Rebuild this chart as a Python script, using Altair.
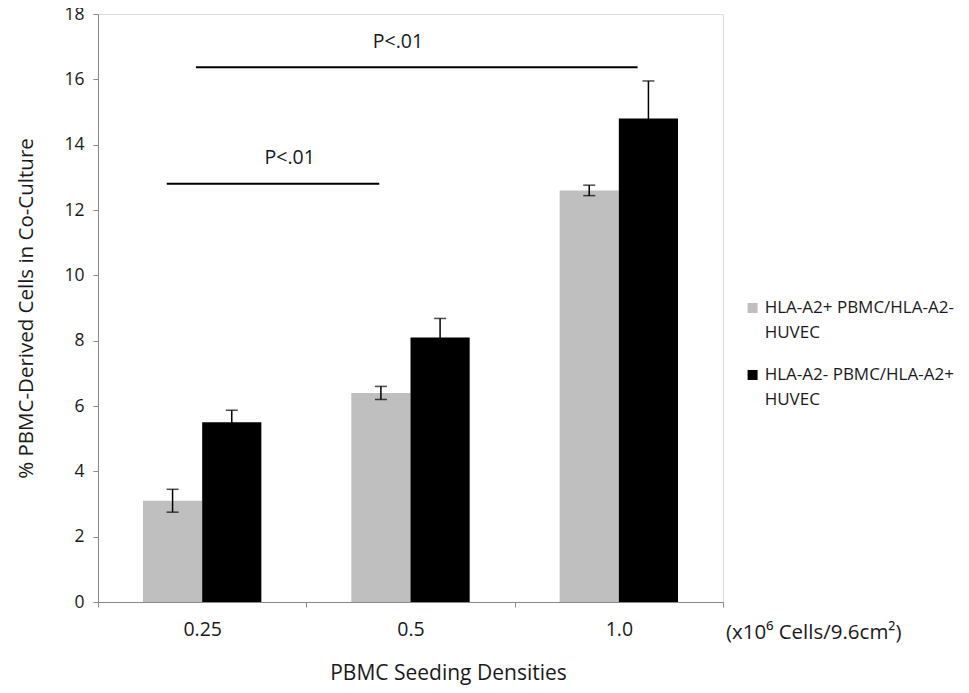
import altair as alt
import pandas as pd

categories = ["0.25", "0.5", "1.0"]
series = ["HLA-A2+ PBMC/HLA-A2- HUVEC", "HLA-A2- PBMC/HLA-A2+ HUVEC"]
gray_vals = [3.1, 6.4, 12.6]
gray_err = [0.35, 0.2, 0.16]
black_vals = [5.5, 8.1, 14.8]
black_err = [0.37, 0.58, 1.15]
colors = ["#bfbfbf", "#000000"]

# significance annotations (x on a 0..3 continuous position across the 3 bands)
sig_x = [0.33, 0.47]
sig_x2 = [1.35, 2.59]
sig_y = [12.8, 16.37]
sig_text = ["P<.01", "P<.01"]
sig_text_x = [0.92, 1.44]
sig_text_y = [13.6, 17.15]
unit_text = "(x10\u2076 Cells/9.6cm\u00b2)"

# manual legend placement (in the same 0..3 / y-value space)
legend_sym_x = 3.142
legend_txt_x = 3.2
legend_y = [9.0, 6.95]

rows = []
for i, c in enumerate(categories):
    rows.append({"cat": c, "series": series[0], "val": gray_vals[i],
                 "lo": gray_vals[i] - gray_err[i], "hi": gray_vals[i] + gray_err[i]})
    rows.append({"cat": c, "series": series[1], "val": black_vals[i],
                 "lo": black_vals[i] - black_err[i], "hi": black_vals[i] + black_err[i]})
df = pd.DataFrame(rows)

FONT = "Open Sans"
TXT = "#1a1a1a"

xenc = alt.X("cat:N", sort=categories, title="PBMC Seeding Densities",
             scale=alt.Scale(paddingInner=0, paddingOuter=0),
             axis=alt.Axis(labelAngle=0, tickBand="extent", tickSize=5,
                           labelPadding=13, titlePadding=24, labelFontSize=19.5,
                           titleFontSize=21, labelFont=FONT, titleFont=FONT,
                           labelColor=TXT, titleColor=TXT, titleX=350,
                           domainColor="#888", tickColor="#888", grid=False,
                           titleFontWeight="normal"))
xoff = alt.XOffset("series:N", sort=series,
                   scale=alt.Scale(paddingInner=0, paddingOuter=0.76))
yscale = alt.Scale(domain=[0, 18], nice=False)

bars = alt.Chart(df).mark_bar(stroke=None).encode(
    x=xenc,
    xOffset=xoff,
    y=alt.Y("val:Q", scale=yscale, title="% PBMC-Derived Cells in Co-Culture",
            axis=alt.Axis(values=list(range(0, 19, 2)), tickSize=5, labelPadding=9,
                          grid=False, labelFontSize=17.5, titleFontSize=20.5,
                          labelFont=FONT, titleFont=FONT, labelColor=TXT,
                          titleColor=TXT, domainColor="#888", tickColor="#888",
                          titleFontWeight="normal", titlePadding=27)),
    color=alt.Color("series:N", sort=series,
                    scale=alt.Scale(domain=series, range=colors), legend=None),
)

err = alt.Chart(df).mark_rule(color="#000", strokeWidth=1.5).encode(
    x=alt.X("cat:N", sort=categories), xOffset=xoff,
    y=alt.Y("lo:Q", scale=yscale), y2="hi:Q")
cap_hi = alt.Chart(df).mark_tick(color="#000", thickness=1.5, size=12).encode(
    x=alt.X("cat:N", sort=categories), xOffset=xoff, y=alt.Y("hi:Q", scale=yscale))
cap_lo = alt.Chart(df).mark_tick(color="#000", thickness=1.5, size=12).encode(
    x=alt.X("cat:N", sort=categories), xOffset=xoff, y=alt.Y("lo:Q", scale=yscale))

main = alt.layer(bars, err, cap_hi, cap_lo)

sig_df = pd.DataFrame({"x": sig_x, "x2": sig_x2, "y": sig_y})
txt_df = pd.DataFrame({"x": sig_text_x, "y": sig_text_y, "t": sig_text})
unit_df = pd.DataFrame({"x": [3.0], "y": [-0.95], "t": [unit_text]})
leg_df = pd.DataFrame({"series": series, "y": legend_y,
                       "sx": [legend_sym_x] * 2, "tx": [legend_txt_x] * 2})

ascale = alt.Scale(domain=[0, 3], nice=False, zero=False)
sig_lines = alt.Chart(sig_df).mark_rule(color="#000", strokeWidth=2).encode(
    x=alt.X("x:Q", scale=ascale, axis=None), x2="x2:Q",
    y=alt.Y("y:Q", scale=yscale))
sig_labels = alt.Chart(txt_df).mark_text(font=FONT, fontSize=19.5, color=TXT,
                                          baseline="middle").encode(
    x=alt.X("x:Q", scale=ascale, axis=None), y=alt.Y("y:Q", scale=yscale), text="t:N")
unit_label = alt.Chart(unit_df).mark_text(font=FONT, fontSize=20.5, color=TXT,
                                           align="left", baseline="middle", dx=3).encode(
    x=alt.X("x:Q", scale=ascale, axis=None), y=alt.Y("y:Q", scale=yscale), text="t:N")

leg_sym = alt.Chart(leg_df).mark_square(size=100, opacity=1).encode(
    x=alt.X("sx:Q", scale=ascale, axis=None), y=alt.Y("y:Q", scale=yscale),
    color=alt.Color("series:N", scale=alt.Scale(domain=series, range=colors), legend=None))
leg_txt = alt.Chart(leg_df).transform_calculate(
    lines="[slice(datum.series, 0, length(datum.series) - 6), 'HUVEC']"
).mark_text(font=FONT, fontSize=17, color=TXT, align="left", baseline="top",
            lineHeight=25, dy=-8).encode(
    x=alt.X("tx:Q", scale=ascale, axis=None), y=alt.Y("y:Q", scale=yscale), text="lines:N")

annot = alt.layer(sig_lines, sig_labels, unit_label, leg_sym, leg_txt).resolve_scale(color="independent")

chart = alt.layer(main, annot).resolve_scale(x="independent", color="independent").properties(
    width=625, height=588,
    autosize=alt.AutoSizeParams(type="none"),
    padding={"left": 90, "top": 6, "right": 238, "bottom": 83},
).configure_view(stroke=None).configure(background="white")

chart.save("out.html", embed_options={"renderer": "svg", "actions": False})
